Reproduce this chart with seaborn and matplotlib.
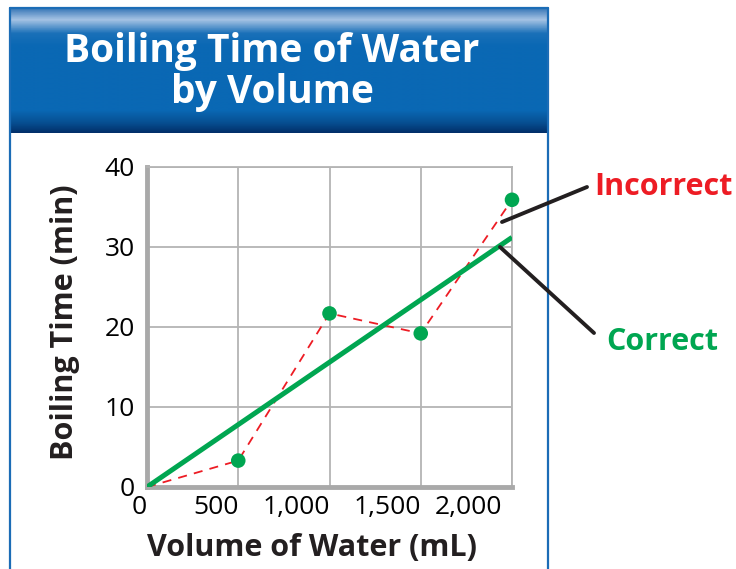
import numpy as np
import matplotlib
matplotlib.use("Agg")
import matplotlib.pyplot as plt
import matplotlib.transforms as mtransforms
import seaborn as sns
from matplotlib.colors import LinearSegmentedColormap
from matplotlib.lines import Line2D

# === Data ===
volumes = [0, 500, 1000, 1500, 2000]
times = [0, 3.3, 21.7, 19.2, 35.9]
fit_x = [0, 2000]
fit_y = [0, 31.2]
x_ticks = [0, 500, 1000, 1500, 2000]
x_labels = ["0", "500", "1,000", "1,500", "2,000"]
y_ticks = [0, 10, 20, 30, 40]
y_minor = [5, 15, 25, 35]

GREEN = "#00a651"
RED = "#ed1c24"
BLUE = "#0a68b4"
GRID = "#b4b4b4"

sns.set_style("white")
plt.rcParams['font.family'] = ['Open Sans', 'DejaVu Sans']

W, H = 736, 569
fig = plt.figure(figsize=(W / 100, H / 100), dpi=100)

def fx(px):
    return px / W

def fy(py):
    return 1 - py / H

# === Header box with gradient ===
hx0, hx1, hy0, hy1 = 10, 548, 8, 133
hax = fig.add_axes([fx(hx0), fy(hy1), fx(hx1 - hx0), (hy1 - hy0) / H])
cmap = LinearSegmentedColormap.from_list(
    "hdr",
    [(0.0, "#3a78b8"), (0.09, "#a6c3e4"), (0.2, "#1a70b8"), (0.3, BLUE),
     (0.82, BLUE), (0.92, "#074f92"), (1.0, "#02306a")])
grad = np.linspace(0, 1, 200).reshape(-1, 1)
hax.imshow(grad, aspect="auto", cmap=cmap, extent=[0, 1, 1, 0])
hax.set_axis_off()
fig.text(fx(272), fy(72), "Boiling Time of Water\nby Volume", color="white",
         fontsize=28, fontweight="bold", ha="center", va="center",
         linespacing=1.05)

# panel border
for xs, ys in [([hx0, hx0], [hy0, H]), ([hx1, hx1], [hy0, H]), ([hx0, hx1], [hy0, hy0])]:
    fig.add_artist(Line2D([fx(v) for v in xs], [fy(v) for v in ys],
                          color="#1b6cb6", linewidth=1.6, transform=fig.transFigure))

# === Plot axes ===
ax = fig.add_axes([fx(147), fy(487), fx(512 - 147), (487 - 167) / H])
ax.set_xlim(0, 2000)
ax.set_ylim(0, 40)

sns.lineplot(x=volumes, y=times, ax=ax, color=RED, linewidth=1.3,
             linestyle=(0, (5, 4)), zorder=3)
sns.lineplot(x=fit_x, y=fit_y, ax=ax, color=GREEN, linewidth=3.6, zorder=4,
             solid_capstyle="butt")
sns.scatterplot(x=volumes[1:], y=times[1:], ax=ax, color=GREEN, s=110,
                edgecolor="none", zorder=5, clip_on=False)

ax.set_xticks(x_ticks)
ax.set_xticklabels(x_labels, ha="right")
ax.set_yticks(y_ticks)
ax.set_yticks(y_minor, minor=True)
ax.grid(True, which="major", color=GRID, linewidth=1.3)
ax.tick_params(axis="both", which="major", length=0, labelsize=19, colors="black")
ax.tick_params(axis="x", pad=6)
ax.tick_params(axis="y", pad=9)
ax.tick_params(axis="y", which="minor", direction="in", length=9,
               width=1.2, color=GRID)
# last label sits a little left of its gridline in the original
last = ax.get_xticklabels()[-1]
last.set_transform(last.get_transform() +
                   mtransforms.ScaledTranslation(-10 / 100, 0, fig.dpi_scale_trans))
for s in ["top", "right"]:
    ax.spines[s].set_color(GRID)
    ax.spines[s].set_linewidth(1.3)
for s in ["left", "bottom"]:
    ax.spines[s].set_color("#a9a9a9")
    ax.spines[s].set_linewidth(3.5)

ax.set_xlabel("Volume of Water (mL)", fontsize=22, fontweight="bold",
              color="#231f20", va="center")
ax.set_ylabel("Boiling Time (min)", fontsize=22, fontweight="bold",
              color="#231f20", va="center")
ax.xaxis.set_label_coords(0.452, -0.19)
ax.yaxis.set_label_coords(-0.225, 0.516)

# === Annotations ===
fig.add_artist(Line2D([fx(502), fx(587)], [fy(222), fy(187)], color="#231f20",
                      linewidth=2.8, transform=fig.transFigure))
fig.add_artist(Line2D([fx(500), fx(594)], [fy(247), fy(333)], color="#231f20",
                      linewidth=2.8, transform=fig.transFigure))
fig.text(fx(594), fy(187), "Incorrect", color=RED, fontsize=22,
         fontweight="bold", ha="left", va="center")
fig.text(fx(606), fy(342), "Correct", color=GREEN, fontsize=22,
         fontweight="bold", ha="left", va="center")

plt.savefig("out.png", dpi=100)
plt.close()
